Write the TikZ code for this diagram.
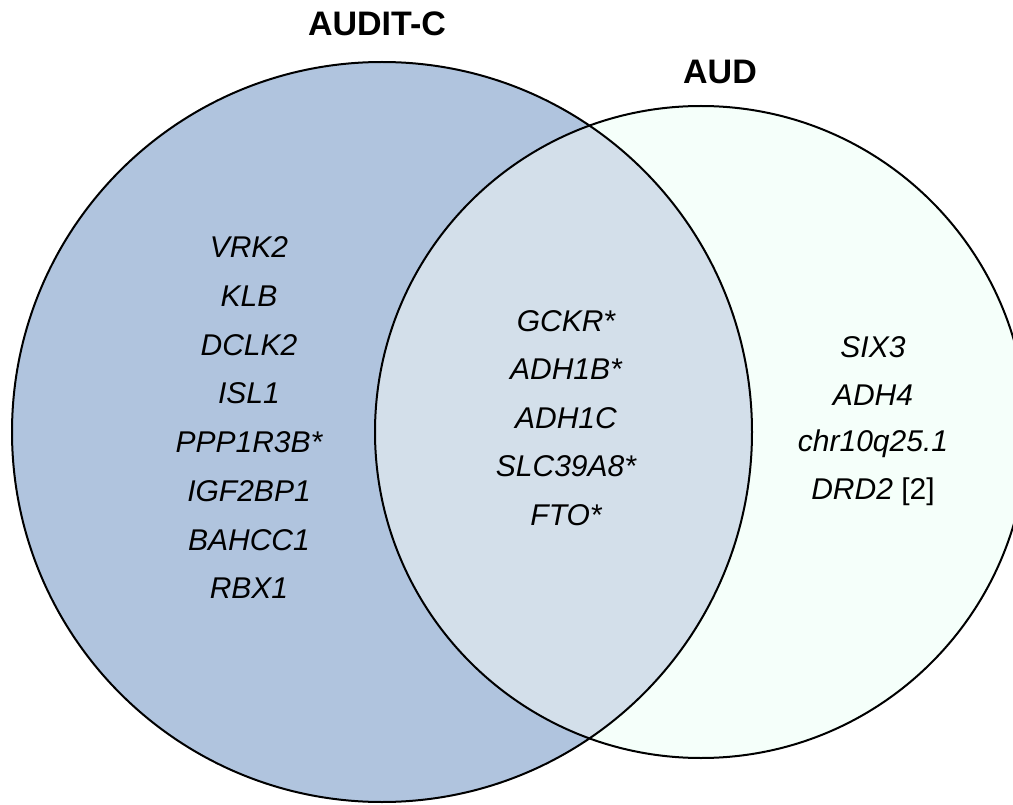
\documentclass[tikz,border=0pt]{standalone}
\usepackage{fontspec}
\setmainfont{Liberation Sans}
\definecolor{leftfill}{RGB}{176,196,222}
\definecolor{rightfill}{RGB}{245,255,250}
\definecolor{overlapfill}{RGB}{211,223,234}
\begin{document}
\begin{tikzpicture}[x=1pt,y=-1pt,
  gene/.style={font=\fontsize{30}{30}\selectfont\itshape, anchor=center, inner sep=0pt},
  settitle/.style={font=\fontsize{34}{34}\selectfont\bfseries, anchor=center, inner sep=0pt},
  ring/.style={draw=black, line width=2pt}]
\useasboundingbox (0,0) rectangle (1013,805);
\clip (0,0) rectangle (1013,805);
% fills
\fill[rightfill] (701,432) circle (326);
\fill[leftfill] (382,432) circle (370);
\begin{scope}
  \clip (382,432) circle (370);
  \fill[overlapfill] (701,432) circle (326);
\end{scope}
% outlines
\draw[ring] (382,432) circle (370);
\draw[ring] (701,432) circle (326);
% titles
\node[settitle] (tA) at (377,24) {AUDIT-C};
\node[settitle] (tB) at (720,72) {AUD};
% left genes
\node[gene] (l1) at (249,247) {VRK2};
\node[gene] (l2) at (249,296) {KLB};
\node[gene] (l3) at (249,345) {DCLK2};
\node[gene] (l4) at (249,393) {ISL1};
\node[gene] (l5) at (249,442) {PPP1R3B*};
\node[gene] (l6) at (249,491) {IGF2BP1};
\node[gene] (l7) at (249,540) {BAHCC1};
\node[gene] (l8) at (249,588) {RBX1};
% overlap genes
\node[gene] (c1) at (566,321) {GCKR*};
\node[gene] (c2) at (566,369) {ADH1B*};
\node[gene] (c3) at (566,418) {ADH1C};
\node[gene] (c4) at (566,466) {SLC39A8*};
\node[gene] (c5) at (566,515) {FTO*};
% right genes
\node[gene] (r1) at (873,347) {SIX3};
\node[gene] (r2) at (873,395) {ADH4};
\node[gene] (r3) at (873,444) {chr10q25.1};
\node[gene] (r4) at (873,492) {DRD2 \upshape[2]};
\end{tikzpicture}
\end{document}
